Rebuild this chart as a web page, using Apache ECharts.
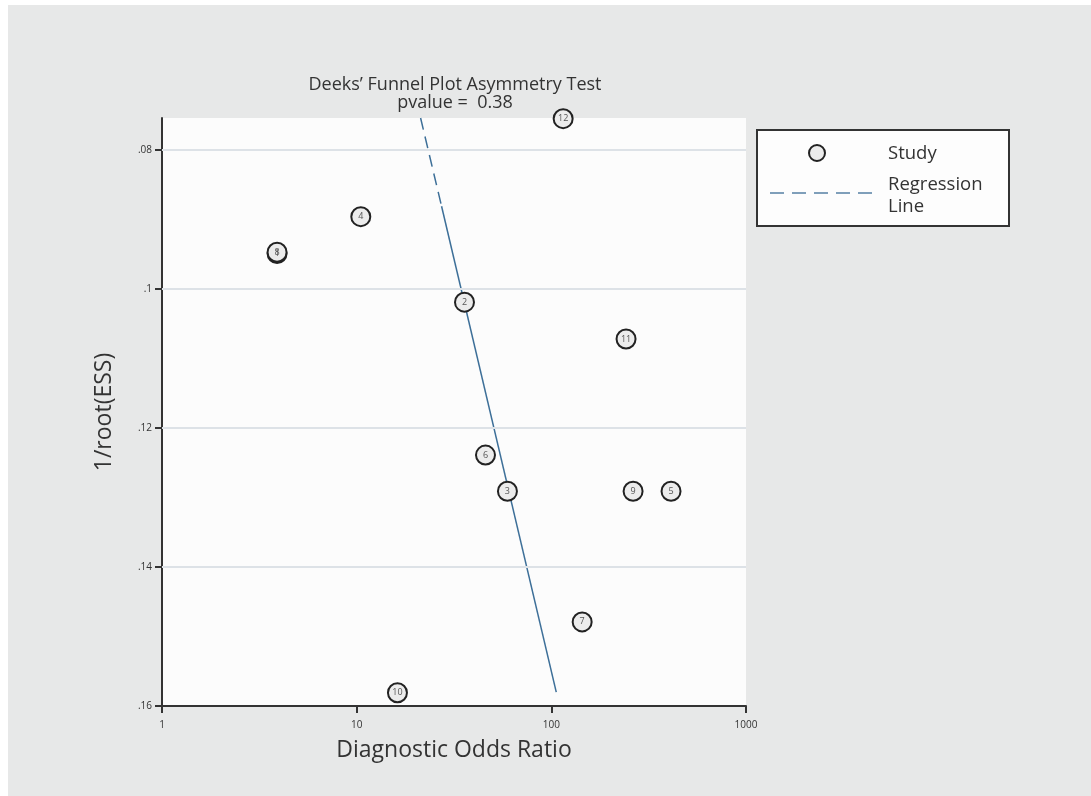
<!DOCTYPE html>
<html><head><meta charset="utf-8">
<script src="https://cdn.jsdelivr.net/npm/echarts@6/dist/echarts.min.js"></script>
<style>
html,body{margin:0;padding:0;background:#fff;width:1091px;height:796px;overflow:hidden}
#c{position:absolute;left:8px;top:5px;width:1083px;height:791px}
</style></head><body>
<div id="c"></div>
<script>
// ---- data ----
const studyIds   = [1, 8, 4, 12, 2, 11, 6, 3, 9, 5, 7, 10];
const dor        = [3.9, 3.9, 10.5, 115, 35.8, 242, 45.9, 59.5, 263, 412, 144, 16.2];
const invRootEss = [0.0949, 0.0947, 0.0896, 0.0755, 0.1019, 0.1072, 0.1239, 0.1291, 0.1291, 0.1291, 0.1479, 0.1581];
const regDashX = [21.3, 27.3];
const regDashY = [0.0754, 0.0881];
const regSolidX = [27.3, 106];
const regSolidY = [0.0881, 0.158];
const yTicks = [0.08, 0.1, 0.12, 0.14, 0.16];
const xTicks = [1, 10, 100, 1000];
const gridLines = [0.08, 0.1, 0.12, 0.14];
const titleText = "Deeks\u2019 Funnel Plot Asymmetry Test";
const pvalueText = "pvalue =  0.38";

const OX = 8, OY = 5;
const FONT = '"Open Sans", "Noto Sans", sans-serif';
const chart = echarts.init(document.getElementById('c'));
const pts = studyIds.map((id, i) => [dor[i], invRootEss[i], id]);

chart.setOption({
  backgroundColor: '#e7e8e8',
  animation: false,
  textStyle: { fontFamily: FONT },
  grid: { left: 162 - OX, top: 118 - OY, right: 1083 - (746 - OX), bottom: 791 - (706 - OY),
          show: true, backgroundColor: '#fcfcfc', borderWidth: 0 },
  xAxis: {
    type: 'log', logBase: 10, min: 1, max: 1000,
    name: 'Diagnostic Odds Ratio', nameLocation: 'middle', nameGap: 33,
    nameTextStyle: { fontSize: 23, color: '#333', fontFamily: FONT },
    axisLine: { show: true, lineStyle: { color: '#333', width: 2 } },
    axisTick: { show: true, length: 7, lineStyle: { color: '#333', width: 2 } },
    minorTick: { show: false },
    axisLabel: { fontSize: 10, color: '#333', margin: 14, formatter: v => String(Math.round(v)) },
    splitLine: { show: false }
  },
  yAxis: {
    type: 'value', inverse: true, min: 0.0754, max: 0.16,
    name: '1/root(ESS)', nameLocation: 'middle', nameGap: 46, nameRotate: 90,
    nameTextStyle: { fontSize: 23, color: '#333', fontFamily: FONT },
    axisLine: { show: true, lineStyle: { color: '#333', width: 2 } },
    axisTick: { show: true, length: 7, customValues: yTicks, lineStyle: { color: '#333', width: 2 } },
    axisLabel: { fontSize: 10, color: '#333', margin: 10, customValues: yTicks,
      formatter: v => { const s = String(+v.toFixed(3)); return s.replace(/^0/, ''); } },
    splitLine: { show: false }
  },
  series: [
    {
      type: 'line', data: [], silent: true, z: 1,
      markLine: {
        silent: true, symbol: ['none', 'none'], label: { show: false },
        lineStyle: { color: '#dde2e7', width: 2, type: 'solid' },
        data: gridLines.map(v => ({ yAxis: v }))
      }
    },
    {
      type: 'line', data: regDashX.map((x, i) => [x, regDashY[i]]),
      symbol: 'none', silent: true, z: 2,
      lineStyle: { color: '#3d6f98', width: 1.5, type: [12, 7] }
    },
    {
      type: 'line', data: regSolidX.map((x, i) => [x, regSolidY[i]]),
      symbol: 'none', silent: true, z: 2,
      lineStyle: { color: '#3d6f98', width: 1.5, type: 'solid' }
    },
    {
      type: 'scatter', data: pts, symbol: 'circle', symbolSize: 19, z: 5,
      itemStyle: { color: '#ececec', borderColor: '#222', borderWidth: 2, opacity: 1 },
      label: { show: true, position: 'inside', formatter: p => p.value[2],
               fontSize: 9, color: '#555', fontFamily: FONT }
    }
  ],
  graphic: [
    { type: 'text', silent: true,
      style: { text: titleText, x: 455 - OX, y: 85 - OY, align: 'center', verticalAlign: 'middle',
               font: '18px ' + FONT, fill: '#333' } },
    { type: 'text', silent: true,
      style: { text: pvalueText, x: 455 - OX, y: 103 - OY, align: 'center', verticalAlign: 'middle',
               font: '18px ' + FONT, fill: '#333' } },
    { type: 'rect', silent: true, shape: { x: 757 - OX, y: 130 - OY, width: 252, height: 96 },
      style: { fill: '#fdfdfd', stroke: '#333', lineWidth: 2 } },
    { type: 'circle', silent: true, shape: { cx: 817 - OX, cy: 153 - OY, r: 8 },
      style: { fill: '#ececec', stroke: '#222', lineWidth: 2 } },
    { type: 'text', silent: true,
      style: { text: 'Study', x: 888 - OX, y: 154 - OY, align: 'left', verticalAlign: 'middle',
               font: '18.5px ' + FONT, fill: '#333' } },
    { type: 'line', silent: true, shape: { x1: 770 - OX, y1: 193 - OY, x2: 872 - OX, y2: 193 - OY },
      style: { stroke: '#7f9fba', lineWidth: 2, lineDash: [14, 8] } },
    { type: 'text', silent: true,
      style: { text: 'Regression', x: 888 - OX, y: 185 - OY, align: 'left', verticalAlign: 'middle',
               font: '18.5px ' + FONT, fill: '#333' } },
    { type: 'text', silent: true,
      style: { text: 'Line', x: 888 - OX, y: 207 - OY, align: 'left', verticalAlign: 'middle',
               font: '18.5px ' + FONT, fill: '#333' } }
  ]
});
</script>
</body></html>
